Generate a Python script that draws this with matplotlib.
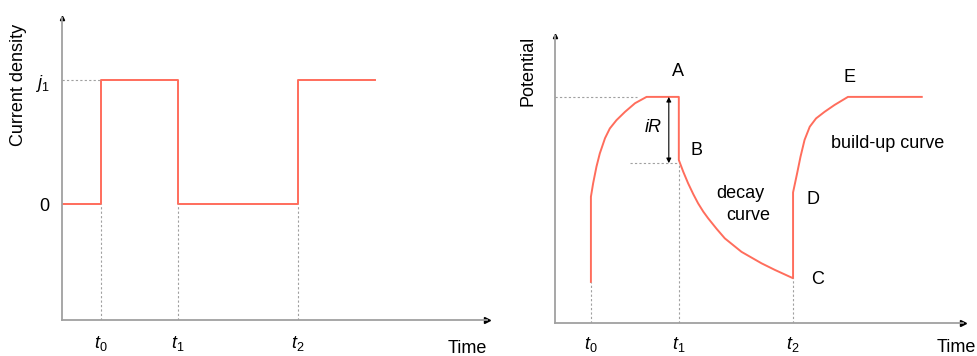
import matplotlib
matplotlib.use('Agg')
import matplotlib.pyplot as plt

plt.rcParams['font.family'] = ['Liberation Sans', 'DejaVu Sans']
plt.rcParams['font.size'] = 13
plt.rcParams['mathtext.fontset'] = 'custom'
plt.rcParams['mathtext.rm'] = 'Liberation Sans'
plt.rcParams['mathtext.it'] = 'Liberation Sans:italic'

RED = '#ff6d5c'
GREY = '#a0a0a0'
DOT = (0, (2, 2))

# ---- data: current step (left) ----
step_t = [0, 1.0, 3.0, 6.1, 8.1]
step_j = [0, 1, 0, 1, 1]
left_ticks = [1.0, 3.0, 6.1]
left_ticklabels = ['$t_0$', '$t_1$', '$t_2$']
left_yticks = [0, 1]
left_yticklabels = ['0', '$j_1$']

# ---- data: potential transient (right) ----
rise_t = [0.97, 0.97, 1.03, 1.12, 1.21, 1.35, 1.48, 1.66, 1.89, 2.16, 2.47, 3.34]
rise_v = [1.43, 4.40, 4.87, 5.45, 5.91, 6.44, 6.78, 7.07, 7.36, 7.66, 7.88, 7.88]
decay_t = [3.34, 3.34, 3.46, 3.59, 3.73, 3.86, 4.00, 4.13, 4.36, 4.58, 5.03, 5.57, 5.93, 6.42]
decay_v = [7.88, 5.68, 5.27, 4.87, 4.49, 4.17, 3.88, 3.65, 3.28, 2.95, 2.48, 2.08, 1.85, 1.56]
build_t = [6.42, 6.42, 6.53, 6.62, 6.73, 6.87, 7.04, 7.27, 7.54, 7.90, 9.89]
build_v = [1.56, 4.55, 5.22, 5.79, 6.38, 6.84, 7.13, 7.36, 7.60, 7.88, 7.88]
t0, t1, t2 = 0.97, 3.34, 6.42
v_top, v_b, v_start, v_c = 7.88, 5.57, 1.43, 1.56
right_ticklabels = ['$t_0$', '$t_1$', '$t_2$']
point_labels = ['A', 'B', 'C', 'D', 'E']
point_xy = [(3.32, 8.75), (3.83, 6.0), (7.09, 1.53), (6.95, 4.29), (7.95, 8.57)]


def arrow_axes(ax):
    for s in ['top', 'right']:
        ax.spines[s].set_visible(False)
    for s in ['left', 'bottom']:
        ax.spines[s].set_color(GREY)
        ax.spines[s].set_linewidth(1.3)
    ax.plot(1, 0, '>', color='black', ms=4, transform=ax.transAxes, clip_on=False)
    ax.plot(0, 1, '^', color='black', ms=3, transform=ax.transAxes, clip_on=False)
    ax.tick_params(length=0)


fig = plt.figure(figsize=(9.77, 3.56), dpi=100)

# Left: current density
ax1 = fig.add_axes([0.0635, 0.1011, 0.435, 0.848])
ax1.set_xlim(0, 11)
ax1.set_ylim(-0.935, 1.5)
arrow_axes(ax1)
ax1.plot(step_t, step_j, drawstyle='steps-post', color=RED, lw=1.4)
ax1.plot([0, 1.0], [1, 1], color=GREY, lw=0.8, ls=DOT)
for t in left_ticks:
    ax1.plot([t, t], [-0.935, 0], color=GREY, lw=0.8, ls=DOT)
ax1.set_xticks(left_ticks, left_ticklabels)
ax1.set_yticks(left_yticks, left_yticklabels)
ax1.tick_params(axis='x', pad=10)
ax1.tick_params(axis='y', pad=9)
ax1.text(-0.1035, 0.778, 'Current density', rotation=90, ha='center', va='center',
         transform=ax1.transAxes)
ax1.text(0.908, -0.093, 'Time', ha='left', va='center', transform=ax1.transAxes)

# Right: potential
ax2 = fig.add_axes([0.568, 0.0927, 0.4176, 0.806])
ax2.set_xlim(0, 11)
ax2.set_ylim(0, 10)
arrow_axes(ax2)
ax2.plot(rise_t + decay_t + build_t, rise_v + decay_v + build_v, color=RED, lw=1.4)
ax2.plot([0, 2.2], [v_top, v_top], color=GREY, lw=0.8, ls=DOT)
ax2.plot([2.02, t1], [v_b, v_b], color=GREY, lw=0.8, ls=DOT)
ax2.plot([t0, t0], [0, v_start], color=GREY, lw=0.8, ls=DOT)
ax2.plot([t1, t1], [0, v_b], color=GREY, lw=0.8, ls=DOT)
ax2.plot([t2, t2], [0, v_c], color=GREY, lw=0.8, ls=DOT)
ax2.annotate('', xy=(3.07, v_top), xytext=(3.07, v_b),
             arrowprops=dict(arrowstyle='<|-|>', color='black', lw=0.8,
                             shrinkA=0, shrinkB=0, mutation_scale=7))
ax2.text(2.64, 6.8, '$iR$', ha='center', va='center')
for lab, (x, y) in zip(point_labels, point_xy):
    ax2.text(x, y, lab, ha='center', va='center')
ax2.text(4.99, 4.53, 'decay', ha='center', va='center')
ax2.text(5.2, 3.76, 'curve', ha='center', va='center')
ax2.text(8.98, 6.24, 'build-up curve', ha='center', va='center')
ax2.set_xticks([t0, t1, t2], right_ticklabels)
ax2.set_yticks([])
ax2.tick_params(axis='x', pad=9)
ax2.text(-0.066, 0.878, 'Potential', rotation=90, ha='center', va='center',
         transform=ax2.transAxes)
ax2.text(0.936, -0.087, 'Time', ha='left', va='center', transform=ax2.transAxes)

fig.savefig('out.png', dpi=100)
